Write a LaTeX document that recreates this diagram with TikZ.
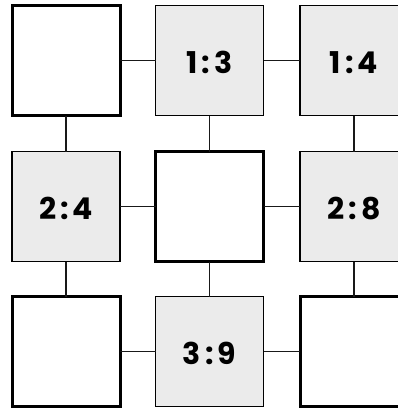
\documentclass[tikz,border=0pt]{standalone}
\usepackage{fontspec}
\setmainfont{Poppins}[UprightFont=* Bold]
\newcommand{\rat}[2]{#1\kern4pt:\kern4pt#2}
\begin{document}
\begin{tikzpicture}[x=1pt,y=1pt,
  cell/.style={draw=black,minimum width=108pt,minimum height=110pt,inner sep=0pt,outer sep=0pt},
  whitecell/.style={cell,fill=white,line width=3pt},
  graycell/.style={cell,fill=gray!16,line width=1.5pt,font=\fontsize{30}{32}\selectfont,text depth=0pt,text height=25pt},
  link/.style={draw=black!90,line width=1.5pt}]
\useasboundingbox (0,0) rectangle (398,-408);
\clip (0,0) rectangle (398,-408);
\fill[white] (0,0) rectangle (398,-408);
\node[whitecell] (a11) at (66,-60.5) {};
\node[graycell]  (a12) at (209.5,-60.5) {\rat{1}{3}};
\node[graycell]  (a13) at (354,-60.5) {\rat{1}{4}};
\node[graycell]  (a21) at (66,-206.5) {\rat{2}{4}};
\node[whitecell] (a22) at (209.5,-206.5) {};
\node[graycell]  (a23) at (354,-206.5) {\rat{2}{8}};
\node[whitecell] (a31) at (66,-351.5) {};
\node[graycell]  (a32) at (209.5,-351.5) {\rat{3}{9}};
\node[whitecell] (a33) at (354,-351.5) {};
\draw[link] (a11) -- (a12);
\draw[link] (a12) -- (a13);
\draw[link] (a21) -- (a22);
\draw[link] (a22) -- (a23);
\draw[link] (a31) -- (a32);
\draw[link] (a32) -- (a33);
\draw[link] (a11) -- (a21);
\draw[link] (a21) -- (a31);
\draw[link] (a12) -- (a22);
\draw[link] (a22) -- (a32);
\draw[link] (a13) -- (a23);
\draw[link] (a23) -- (a33);
\end{tikzpicture}
\end{document}
